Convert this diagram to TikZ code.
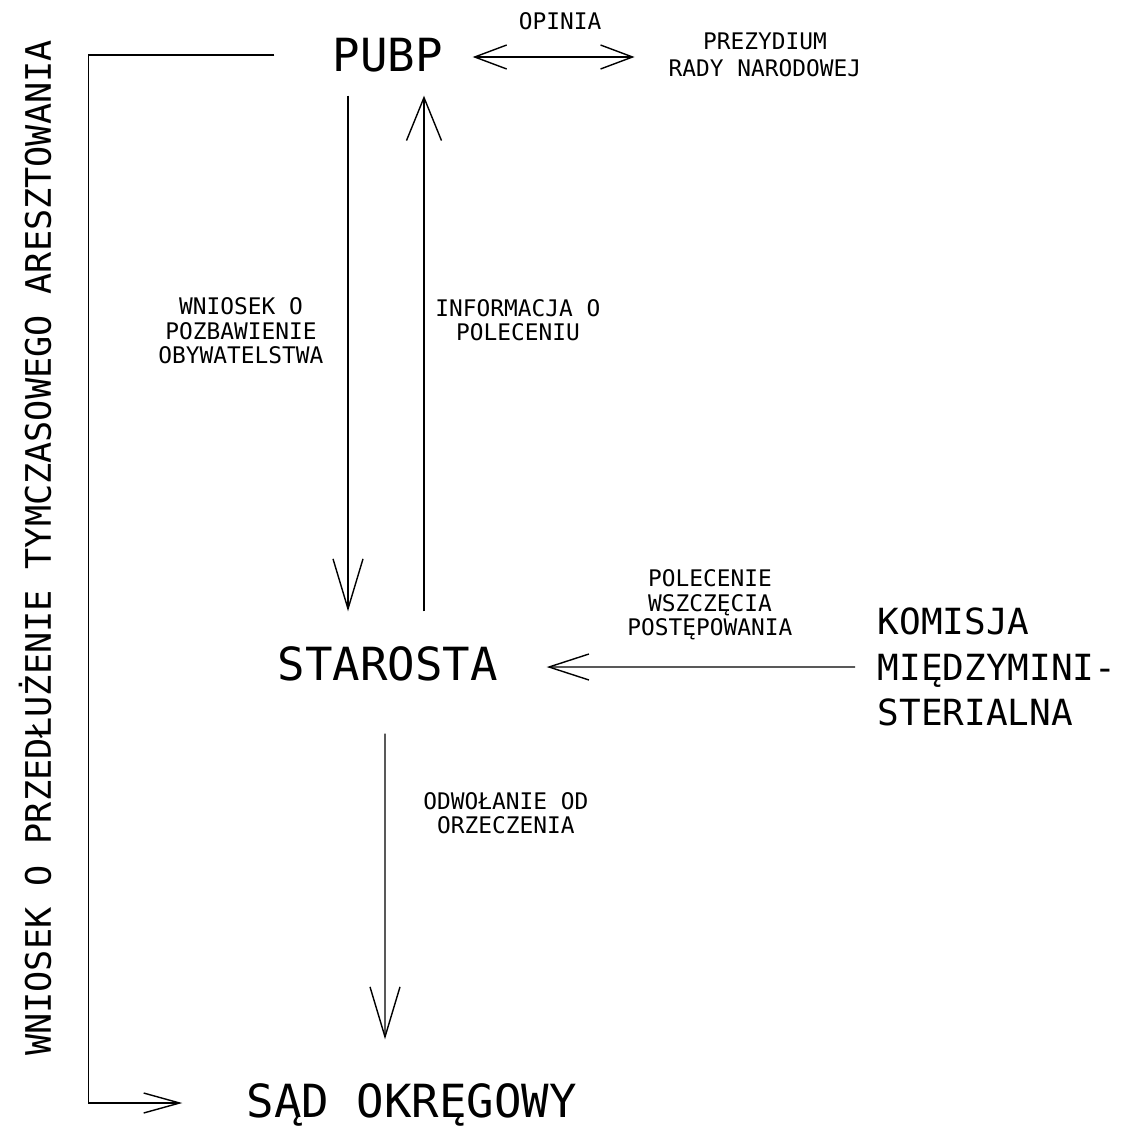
\documentclass[tikz,border=0pt]{standalone}
\usepackage{fontspec}
\usetikzlibrary{arrows.meta}

\newfontfamily\cadfont{DejaVu Sans Mono}
\newcommand{\cadbig}{\cadfont\fontsize{26}{30}\selectfont}
\newcommand{\cadmid}{\cadfont\fontsize{20.5}{26}\selectfont}
\newcommand{\cadsmall}{\cadfont\fontsize{13}{14}\selectfont}

\tikzset{
  big/.style={font=\cadbig, inner sep=0pt, text height=0.66cm, text depth=0pt},
  mid/.style={font=\cadmid, inner sep=0pt},
  small/.style={font=\cadsmall, inner sep=0pt, align=center},
  longtip/.style={-{Straight Barb[length=1cm,width=0.6cm]}},
  uptip/.style={-{Straight Barb[length=0.86cm,width=0.7cm]}},
  sidetip/.style={-{Straight Barb[length=0.8cm,width=0.52cm]}},
  smalltip/.style={-{Straight Barb[length=0.72cm,width=0.4cm]}},
  bothtip/.style={{Straight Barb[length=0.64cm,width=0.48cm]}-{Straight Barb[length=0.64cm,width=0.48cm]}}
}

\begin{document}
\begin{tikzpicture}[x=0.02cm,y=-0.02cm,line width=0.8pt]
  \useasboundingbox (0,0) rectangle (1121,1130);

  % main offices
  \node (pubp) at (388,55) [big] {PUBP};
  \node (prez) at (765,55) [small,font=\cadfont\fontsize{13}{15.3}\selectfont] {PREZYDIUM\\RADY NARODOWEJ};
  \node (starosta) at (388,664) [big] {STAROSTA};
  \node (komisja) at (877,667) [mid,anchor=west,align=left] {KOMISJA\\MIĘDZYMINI-\\STERIALNA};
  \node (sad) at (412,1101) [big] {SĄD OKRĘGOWY};

  % labels
  \node (wniosek) at (241,331) [small] {WNIOSEK O\\POZBAWIENIE\\OBYWATELSTWA};
  \node (informacja) at (518,320) [small] {INFORMACJA O\\POLECENIU};
  \node (polecenie) at (710,605) [small] {POLECENIE\\WSZCZĘCIA\\POSTĘPOWANIA};
  \node (odwolanie) at (506,813) [small] {ODWOŁANIE OD\\ORZECZENIA};
  \node (areszt) at (35,548) [mid,font=\cadfont\fontsize{20}{24}\selectfont,rotate=90] {WNIOSEK O PRZEDŁUŻENIE TYMCZASOWEGO ARESZTOWANIA};

  % connectors
  \draw[bothtip] ([xshift=0.58cm,yshift=-0.04cm]pubp.east) -- node[small,above=0.52cm,xshift=0.13cm] (opinia) {OPINIA} ([xshift=-0.67cm,yshift=-0.04cm]prez.west);
  \draw[longtip] ([xshift=-0.8cm,yshift=-0.47cm]pubp.south) -- ([xshift=-0.8cm,yshift=0.71cm]starosta.north);
  \draw[uptip] ([xshift=0.72cm,yshift=0.71cm]starosta.north) -- ([xshift=0.72cm,yshift=-0.47cm]pubp.south);
  \draw[sidetip] ([xshift=-0.44cm]komisja.west) -- ([xshift=0.96cm,yshift=-0.06cm]starosta.east);
  \draw[longtip] ([xshift=-0.06cm,yshift=-1.05cm]starosta.south) -- ([xshift=-0.54cm,yshift=0.89cm]sad.north);
  \draw[smalltip] ([xshift=-1.16cm]pubp.west) -- ++(-186,0) |- ([xshift=-1.28cm,yshift=-0.04cm]sad.west);
\end{tikzpicture}
\end{document}
